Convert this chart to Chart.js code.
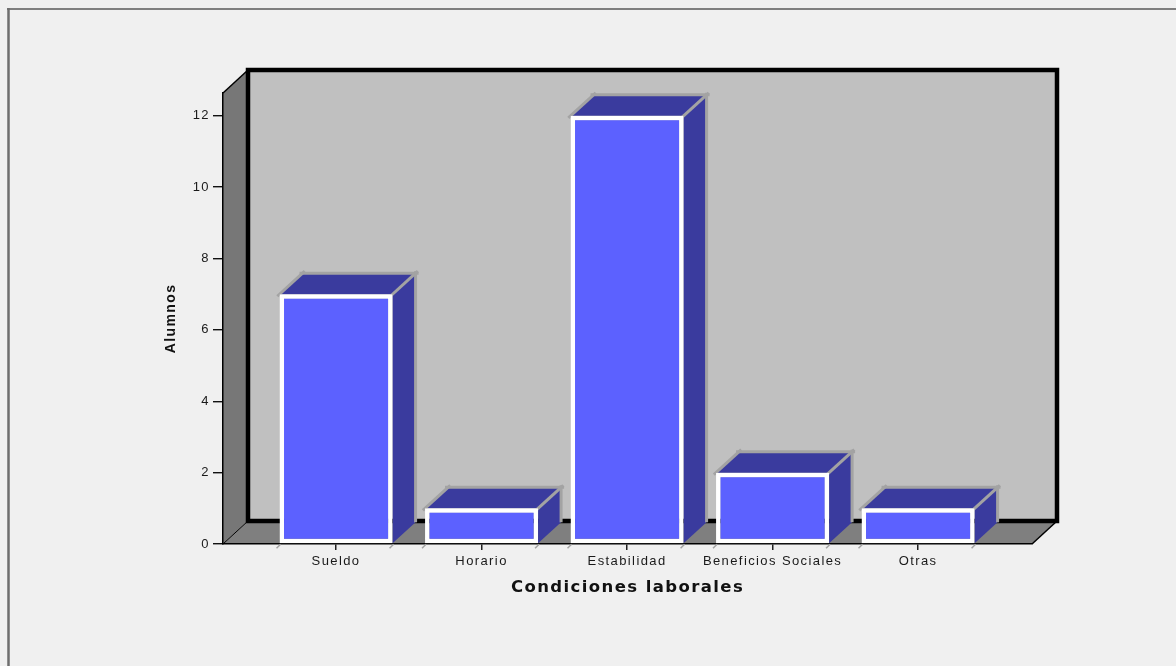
<!DOCTYPE html>
<html>
<head>
<meta charset="utf-8">
<script src="https://cdn.jsdelivr.net/npm/chart.js@4.4.1/dist/chart.umd.min.js"></script>
<style>
  html, body { margin: 0; padding: 0; background: #f0f0f0; }
  canvas { display: block; }
</style>
</head>
<body>
<canvas id="barChart" width="1176" height="666"></canvas>
<script>
// Data
const categories = ['Sueldo', 'Horario', 'Estabilidad', 'Beneficios Sociales', 'Otras'];
const alumnos = [7, 1, 12, 2, 1];
const yTicks = [0, 2, 4, 6, 8, 10, 12];

// 3D depth of the box and of the bars
const BOX_DX = 25, BOX_DY = -23;
const BAR_DX = 23, BAR_DY = -21;

function line(ctx, x1, y1, x2, y2) {
    ctx.beginPath();
    ctx.moveTo(x1, y1);
    ctx.lineTo(x2, y2);
    ctx.stroke();
}

// gray edge, a bit longer than the corner it joins
function edge(ctx, x1, y1, x2, y2, ext) {
    const len = Math.hypot(x2 - x1, y2 - y1) || 1;
    const ux = (x2 - x1) / len, uy = (y2 - y1) / len;
    line(ctx, x1 - ux * ext, y1 - uy * ext, x2 + ux * ext, y2 + uy * ext);
}

function poly(ctx, pts, fill) {
    ctx.beginPath();
    ctx.moveTo(pts[0][0], pts[0][1]);
    for (let i = 1; i < pts.length; i++) ctx.lineTo(pts[i][0], pts[i][1]);
    ctx.closePath();
    ctx.fillStyle = fill;
    ctx.fill();
}

const box3d = {
    id: 'box3d',
    beforeDraw(chart) {
        const { ctx, chartArea: a } = chart;
        const L = a.left, R = a.right, T = a.top, B = a.bottom;
        ctx.save();

        // outer frame
        ctx.strokeStyle = '#5a5a5a';
        ctx.lineWidth = 1.5;
        line(ctx, 7, 9, 1176, 9);
        ctx.lineWidth = 2.5;
        ctx.strokeStyle = '#6e6e6e';
        line(ctx, 8.5, 8, 8.5, 666);

        // back wall, floor, side wall
        ctx.fillStyle = '#c0c0c0';
        ctx.fillRect(L + BOX_DX, T + BOX_DY, R - L, B - T);
        poly(ctx, [[L, B], [L + BOX_DX, B + BOX_DY], [R + BOX_DX, B + BOX_DY], [R, B]], '#7f7f7f');
        poly(ctx, [[L, T], [L + BOX_DX, T + BOX_DY], [L + BOX_DX, B + BOX_DY], [L, B]], '#777777');

        ctx.strokeStyle = '#000';
        ctx.lineWidth = 4.5;
        ctx.strokeRect(L + BOX_DX, T + BOX_DY, R - L, B - T);
        ctx.lineWidth = 1.5;
        line(ctx, L, T, L + BOX_DX, T + BOX_DY);
        line(ctx, R, B, R + BOX_DX, B + BOX_DY);
        ctx.lineWidth = 1;
        line(ctx, L, B, L + BOX_DX, B + BOX_DY);
        ctx.restore();

        ctx.letterSpacing = '1.4px';
    },
    beforeDatasetsDraw(chart) {
        const ctx = chart.ctx;
        const meta = chart.getDatasetMeta(0);
        ctx.save();
        meta.data.forEach(bar => {
            const l = bar.x - bar.width / 2, r = bar.x + bar.width / 2;
            const t = bar.y, b = bar.base;
            // side and top faces
            poly(ctx, [[r, t], [r + BAR_DX, t + BAR_DY], [r + BAR_DX, b + BAR_DY], [r, b]], '#3a3b9e');
            poly(ctx, [[l, t], [l + BAR_DX, t + BAR_DY], [r + BAR_DX, t + BAR_DY], [r, t]], '#3a3b9e');

            ctx.strokeStyle = '#a3a3a3';
            ctx.lineWidth = 3;
            edge(ctx, l, t, l + BAR_DX, t + BAR_DY, 3);
            edge(ctx, l + BAR_DX, t + BAR_DY, r + BAR_DX, t + BAR_DY, 3);
            edge(ctx, r, t, r + BAR_DX, t + BAR_DY, 3);
            line(ctx, r + BAR_DX, t + BAR_DY - 2, r + BAR_DX, b + BAR_DY);

            // small marks under the front corners
            ctx.lineWidth = 1.5;
            line(ctx, l + 1, b + 1, l - 3, b + 5);
            line(ctx, r + 1, b + 1, r - 3, b + 5);
        });
        ctx.restore();
    },
    afterDraw(chart) {
        chart.ctx.letterSpacing = '0px';
    }
};

const tickFont = { family: "'Liberation Sans', Arial, sans-serif", size: 13 };

const ctx = document.getElementById('barChart').getContext('2d');
const barChart = new Chart(ctx, {
    type: 'bar',
    data: {
        datasets: [{
            label: 'Alumnos',
            data: categories.map((c, i) => ({ x: i, y: alumnos[i] })),
            backgroundColor: '#5c61ff',
            borderColor: '#ffffff',
            borderWidth: 4.5,
            borderSkipped: false,
            categoryPercentage: 1,
            barPercentage: 0.777
        }]
    },
    options: {
        responsive: false,
        animation: false,
        layout: { padding: { top: 93, right: 144, left: 0, bottom: 0 } },
        plugins: {
            legend: { display: false },
            tooltip: { enabled: false }
        },
        scales: {
            x: {
                type: 'linear',
                offset: false,
                min: -0.777,
                max: 4.783,
                afterFit: (s) => { s.height = 122; },
                afterBuildTicks: (s) => { s.ticks = categories.map((c, i) => ({ value: i })); },
                grid: { offset: false, drawOnChartArea: false, tickLength: 6, color: '#222', lineWidth: 1.5 },
                border: { display: true, color: '#000', width: 1.5 },
                ticks: {
                    padding: 4,
                    color: '#1a1a1a',
                    font: tickFont,
                    maxRotation: 0,
                    autoSkip: false,
                    callback: (v) => categories[v]
                },
                title: {
                    display: true,
                    text: 'Condiciones laborales',
                    color: '#111',
                    font: { family: "'DejaVu Sans', sans-serif", size: 16.5, weight: 'bold' },
                    padding: { top: 0, bottom: 68 }
                }
            },
            y: {
                min: 0,
                max: 12.64,
                afterFit: (s) => { s.width = 223; },
                afterBuildTicks: (s) => { s.ticks = yTicks.map(v => ({ value: v })); },
                grid: { drawOnChartArea: false, tickLength: 10, color: '#111', lineWidth: 1.4 },
                border: { display: true, color: '#000', width: 1.5 },
                ticks: { padding: 3, color: '#1a1a1a', font: tickFont },
                title: {
                    display: true,
                    text: 'Alumnos',
                    color: '#111',
                    font: { family: "'Liberation Sans', Arial, sans-serif", size: 14, weight: 'bold' },
                    padding: { top: 163, bottom: 0 }
                }
            }
        }
    },
    plugins: [box3d]
});
</script>
</body>
</html>
